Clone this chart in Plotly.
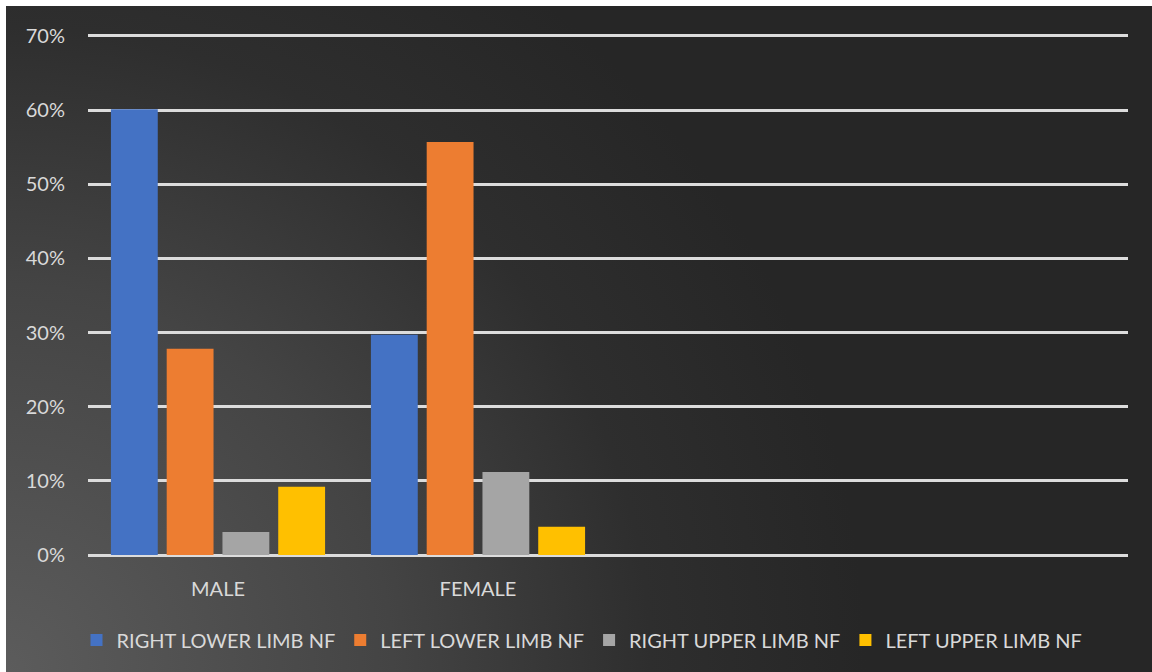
import base64
import plotly.graph_objects as go

# ---- data ----
categories = ["MALE", "FEMALE"]
series_names = ["RIGHT LOWER LIMB NF", "LEFT LOWER LIMB NF", "RIGHT UPPER LIMB NF", "LEFT UPPER LIMB NF"]
right_lower = [0.601, 0.297]
left_lower = [0.278, 0.557]
right_upper = [0.031, 0.112]
left_upper = [0.092, 0.038]
tick_vals = [0, 0.1, 0.2, 0.3, 0.4, 0.5, 0.6, 0.7]
tick_text = ["0%", "10%", "20%", "30%", "40%", "50%", "60%", "70%"]

colors = ["#4472C4", "#ED7D31", "#A5A5A5", "#FFC000"]

W, H = 1152, 672
L, R, T, B = 88, 24, 34, 117
pw, ph = W - L - R, H - T - B

fig = go.Figure()
for name, vals, c in zip(series_names, [right_lower, left_lower, right_upper, left_upper], colors):
    fig.add_trace(go.Bar(
        x=categories, y=vals, name=name,
        marker=dict(color=c, line=dict(width=0)),
    ))

# background radial gradient (Excel dark style) as an SVG image
bg_x0, bg_y0 = 6, 6
bw, bh = W - bg_x0, H - bg_y0
svg = f'''<svg xmlns="http://www.w3.org/2000/svg" width="{bw}" height="{bh}" viewBox="0 0 {bw} {bh}" preserveAspectRatio="none">
<defs><radialGradient id="g" gradientUnits="userSpaceOnUse" cx="0" cy="{bh}" r="860">
<stop offset="0" stop-color="#5c5c5c"/>
<stop offset="0.45" stop-color="#444444"/>
<stop offset="0.75" stop-color="#2e2e2e"/>
<stop offset="1" stop-color="#262626"/>
</radialGradient></defs>
<rect x="0" y="0" width="{bw}" height="{bh}" fill="url(#g)"/>
</svg>'''
src = "data:image/svg+xml;base64," + base64.b64encode(svg.encode()).decode()

fig.add_layout_image(dict(
    source=src, xref="paper", yref="paper",
    x=(bg_x0 - L) / pw, y=(H - B - bg_y0) / ph,
    sizex=bw / pw, sizey=bh / ph,
    xanchor="left", yanchor="top", sizing="stretch", layer="below",
))

font_family = "Lato, 'Open Sans', sans-serif"
txt = "#d9d9d9"
fig.update_layout(
    width=W, height=H,
    margin=dict(l=L, r=R, t=T, b=B, pad=0),
    paper_bgcolor="white",
    plot_bgcolor="rgba(0,0,0,0)",
    barmode="group",
    bargap=0.142,
    bargroupgap=0.16,
    font=dict(family=font_family, color=txt, size=20),
    showlegend=True,
    legend=dict(
        orientation="h", x=0.475, xanchor="center", y=(H - B - 640) / ph, yanchor="middle",
        font=dict(size=20, color=txt, family=font_family),
        bgcolor="rgba(0,0,0,0)", itemwidth=30, traceorder="normal",
    ),
    xaxis=dict(
        range=[-0.5, 3.5], showgrid=False, zeroline=False, showline=False,
        ticks="", tickfont=dict(size=20, color=txt), ticklabelstandoff=20,
    ),
    yaxis=dict(
        range=[0, 0.7025], tickvals=tick_vals, ticktext=tick_text,
        showgrid=True, gridcolor="#dcdcdc", gridwidth=2.5,
        zeroline=True, zerolinecolor="#dcdcdc", zerolinewidth=2.5,
        showline=False, ticks="", tickfont=dict(size=20, color=txt),
        ticklabelstandoff=22,
    ),
)

fig.write_html("out.html")
